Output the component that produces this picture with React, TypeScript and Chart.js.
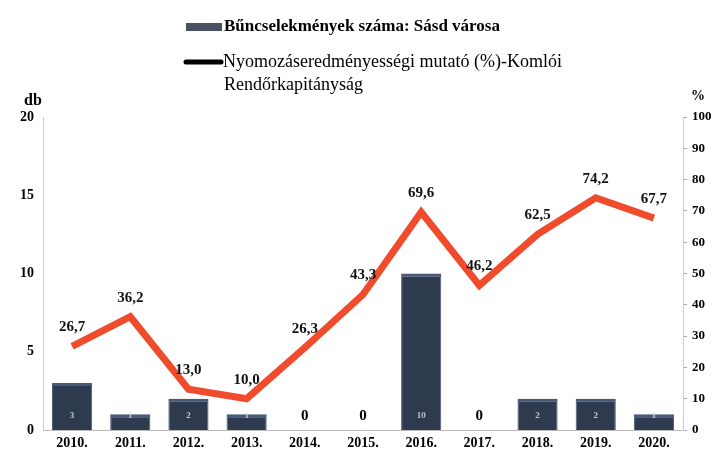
import React, { useEffect, useRef } from "react";
import { Chart, registerables } from "chart.js";

Chart.register(...registerables);

const years = ["2010.", "2011.", "2012.", "2013.", "2014.", "2015.", "2016.", "2017.", "2018.", "2019.", "2020."];
const crimes = [3, 1, 2, 1, 0, 0, 10, 0, 2, 2, 1];
const clearance = [26.7, 36.2, 13.0, 10.0, 26.3, 43.3, 69.6, 46.2, 62.5, 74.2, 67.7];
const leftTicks = [0, 5, 10, 15, 20];
const rightTicks = [0, 10, 20, 30, 40, 50, 60, 70, 80, 90, 100];
const barLegend = "Bűncselekmények száma: Sásd városa";
const lineLegend = ["Nyomozáseredményességi mutató (%)-Komlói", "Rendőrkapitányság"];
const leftTitle = "db";
const rightTitle = "%";

const SERIF = "'Liberation Serif', 'Times New Roman', serif";

const fmt = (v: number) => v.toFixed(1).replace(".", ",");

const annotate = {
  id: "annotate",
  afterDatasetsDraw(chart: any) {
    const ctx = chart.ctx;
    ctx.save();
    const bm = chart.getDatasetMeta(0);
    bm.data.forEach((el: any, i: number) => {
      const v = crimes[i];
      ctx.textAlign = "center";
      ctx.textBaseline = "middle";
      if (v === 0) {
        ctx.fillStyle = "#000";
        ctx.font = `bold 15px ${SERIF}`;
        ctx.fillText("0", el.x, el.base - 14);
      } else {
        ctx.fillStyle = "rgba(220,228,240,0.8)";
        ctx.font = `bold 9px ${SERIF}`;
        ctx.fillText(String(v), el.x, el.base - 14);
      }
    });
    const lm = chart.getDatasetMeta(1);
    ctx.fillStyle = "#111";
    ctx.font = `bold 15px ${SERIF}`;
    ctx.textAlign = "center";
    ctx.textBaseline = "middle";
    lm.data.forEach((el: any, i: number) => {
      ctx.fillText(fmt(clearance[i]), el.x, el.y - 19);
    });
    ctx.restore();
  },
  afterDraw(chart: any) {
    const ctx = chart.ctx;
    ctx.save();
    ctx.fillStyle = "#4a5262";
    ctx.fillRect(186, 23, 36, 8);
    ctx.fillStyle = "#000";
    ctx.font = `bold 17px ${SERIF}`;
    ctx.textAlign = "left";
    ctx.textBaseline = "middle";
    ctx.fillText(barLegend, 224, 27);
    ctx.strokeStyle = "#000";
    ctx.lineWidth = 5;
    ctx.lineCap = "round";
    ctx.beginPath();
    ctx.moveTo(186, 62);
    ctx.lineTo(221, 62);
    ctx.stroke();
    ctx.font = `18px ${SERIF}`;
    ctx.fillText(lineLegend[0], 223, 62);
    ctx.fillText(lineLegend[1], 224, 85);
    ctx.font = `bold 16px ${SERIF}`;
    ctx.fillText(leftTitle, 24, 101);
    ctx.font = `bold 14px ${SERIF}`;
    ctx.fillText(rightTitle, 691, 96);
    ctx.restore();
  },
};

export default function App() {
  const ref = useRef<HTMLCanvasElement>(null);
  useEffect(() => {
    if (!ref.current) return;
    const chart = new Chart(ref.current, {
      type: "bar",
      data: {
        labels: years,
        datasets: [
          {
            type: "bar",
            label: barLegend,
            data: crimes,
            backgroundColor: "#2e3a4e",
            borderColor: "#465a78",
            borderWidth: { top: 3, left: 1, right: 1, bottom: 0 },
            borderSkipped: false,
            barPercentage: 0.69,
            categoryPercentage: 1,
            yAxisID: "y",
            order: 2,
          },
          {
            type: "line",
            label: lineLegend.join(" "),
            data: clearance,
            borderColor: "#f04b2c",
            borderWidth: 7,
            pointRadius: 0,
            tension: 0,
            yAxisID: "y1",
            order: 1,
          },
        ],
      },
      options: {
        responsive: true,
        maintainAspectRatio: false,
        animation: false,
        layout: { padding: { top: 117, left: 0, right: 0, bottom: 0 } },
        plugins: { legend: { display: false }, tooltip: { enabled: false } },
        scales: {
          x: {
            grid: { display: false, drawTicks: false },
            border: { color: "#bbb", width: 1 },
            ticks: { color: "#000", font: { family: SERIF, size: 14, weight: "bold" }, padding: 5 },
            afterFit: (s: any) => { s.height = 26; },
          },
          y: {
            position: "left",
            min: 0,
            max: 20,
            afterBuildTicks: (s: any) => { s.ticks = leftTicks.map((v) => ({ value: v })); },
            grid: { display: false, drawTicks: false },
            border: { color: "#ccc", width: 1 },
            ticks: { color: "#000", font: { family: SERIF, size: 14, weight: "bold" }, padding: 9 },
            afterFit: (s: any) => { s.width = 43; },
          },
          y1: {
            position: "right",
            min: 0,
            max: 100,
            afterBuildTicks: (s: any) => { s.ticks = rightTicks.map((v) => ({ value: v })); },
            grid: { drawOnChartArea: false, drawTicks: true, tickLength: 4, color: "#aaa" },
            border: { color: "#ccc", width: 1 },
            ticks: { color: "#000", font: { family: SERIF, size: 13, weight: "bold" }, padding: 5 },
            afterFit: (s: any) => { s.width = 36; },
          },
        },
      },
      plugins: [annotate],
    });
    return () => chart.destroy();
  }, []);
  return (
    <div style={{ position: "absolute", left: 0, top: 0, width: 719, height: 456, background: "#fff" }}>
      <canvas ref={ref} />
    </div>
  );
}
